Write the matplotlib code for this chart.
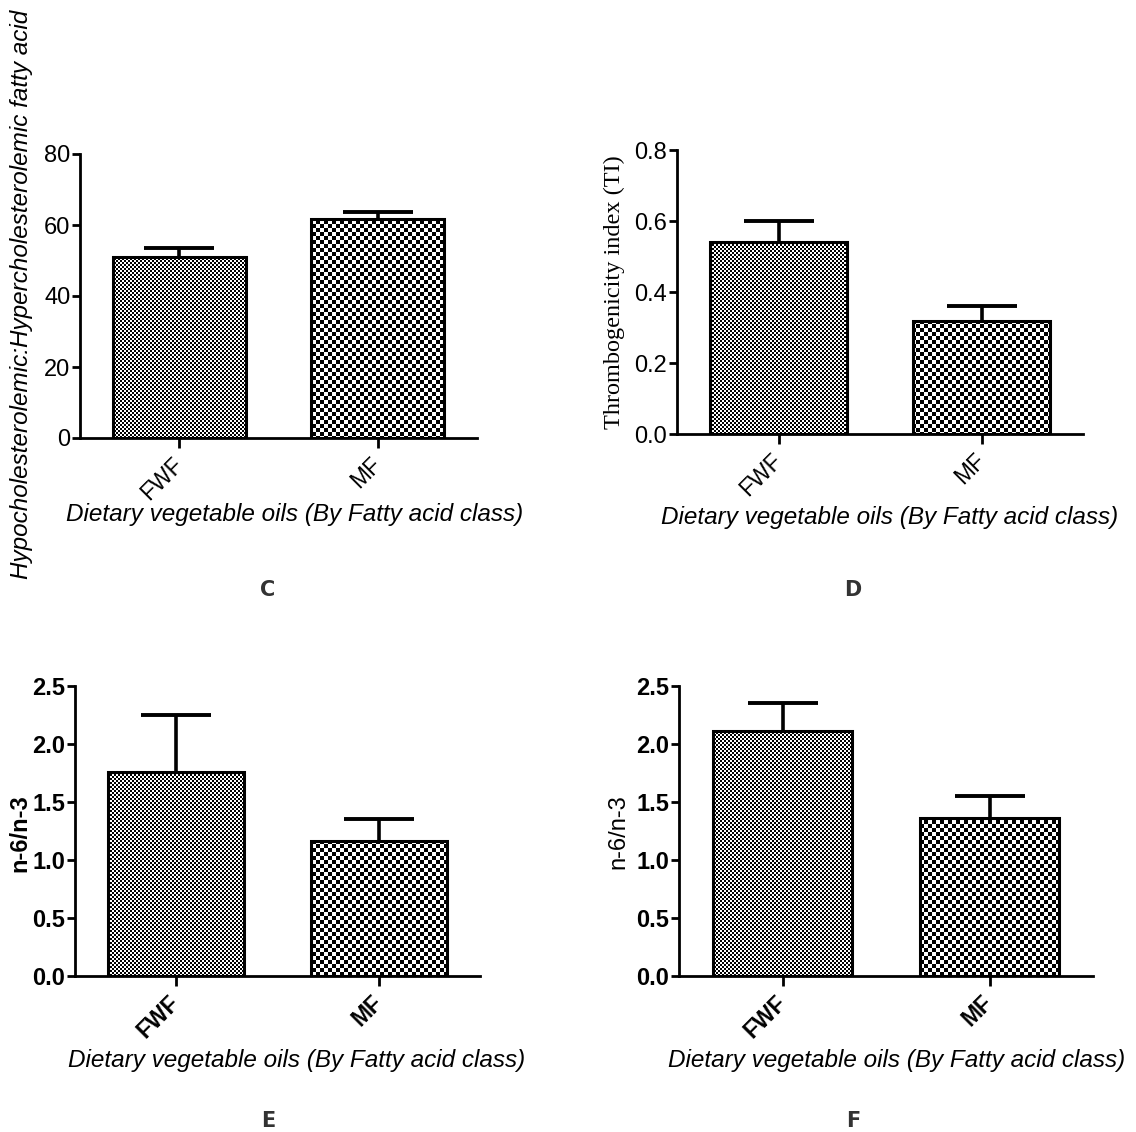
import numpy as np
import matplotlib
matplotlib.use('Agg')
import matplotlib.pyplot as plt

# data (mean, upper error bar end)
groups = ['FWF', 'MF']

hh_mean = [51.0, 61.7]
hh_top = [53.6, 63.8]

ti_mean = [0.542, 0.318]
ti_top = [0.599, 0.360]

e_mean = [1.76, 1.16]
e_top = [2.25, 1.35]

f_mean = [2.11, 1.365]
f_top = [2.355, 1.552]

xlab = 'Dietary vegetable oils (By Fatty acid class)'

W, H = 1136, 1132
fig = plt.figure(figsize=(W / 100, H / 100), dpi=100)

# checkerboard textures in screen pixels
yy, xx = np.mgrid[0:H, 0:W]
fine = ((xx // 2 + yy // 2) % 2).astype(float)
coarse = ((xx // 4 + yy // 4) % 2).astype(float)
textures = [fine, coarse]


def panel(box, mean, top, ymax, yticks, fmt, ylabel, ylab_font, ylab_px,
          xlab_px, bold, letter, letter_xy):
    l, t, r, b = box
    ax = fig.add_axes([l / W, 1 - b / H, (r - l) / W, (b - t) / H])
    ax.patch.set_visible(False)
    x = np.arange(len(groups))
    bars = ax.bar(x, mean, width=0.67, facecolor='none', edgecolor='k',
                  linewidth=2.2, zorder=2)
    for bar, tex in zip(bars, textures):
        im = fig.figimage(tex, cmap='gray', vmin=0, vmax=1, zorder=-1)
        im.set_clip_path(bar)
    err = np.array(top) - np.array(mean)
    _, caps, _ = ax.errorbar(x, mean, yerr=[np.zeros(len(x)), err], fmt='none',
                             ecolor='k', elinewidth=2.6, capsize=25,
                             capthick=2.8, zorder=1)
    caps[0].set_visible(False)
    ax.set_xlim(-0.5, 1.5)
    ax.set_ylim(0, ymax)
    ax.set_yticks(yticks)
    ax.set_yticklabels([fmt.format(v) for v in yticks])
    ax.set_xticks(x)
    weight = 'bold' if bold else 'normal'
    ax.set_xticklabels(groups, rotation=45, ha='right', va='center',
                       rotation_mode='anchor', fontsize=16.5, fontweight=weight,
                       family='Liberation Sans')
    for lab in ax.get_yticklabels():
        lab.set_fontsize(17)
        lab.set_fontweight(weight)
        lab.set_family('Liberation Sans')
    ax.tick_params(axis='y', length=6, width=2, pad=1)
    ax.tick_params(axis='x', length=7.5, width=2, pad=9)
    for s in ['top', 'right']:
        ax.spines[s].set_visible(False)
    for s in ['left', 'bottom']:
        ax.spines[s].set_linewidth(2)
    # label centres given in figure pixels
    ax.set_ylabel(ylabel, **ylab_font)
    ax.yaxis.set_label_coords((ylab_px[0] - l) / (r - l), (b - ylab_px[1]) / (b - t))
    ax.yaxis.label.set_va('center')
    ax.set_xlabel(xlab, fontsize=17.5, style='italic', family='Liberation Sans')
    ax.xaxis.set_label_coords((xlab_px[0] - l) / (r - l), (b - xlab_px[1]) / (b - t))
    ax.xaxis.label.set_va('center')
    fig.text(letter_xy[0] / W, 1 - letter_xy[1] / H, letter, ha='center',
             va='center', fontsize=15, fontweight='bold', color='#333333',
             family='DejaVu Sans')
    return ax


panel((80, 154, 477, 438), hh_mean, hh_top, 80, [0, 20, 40, 60, 80], '{:.0f}',
      'Hypocholesterolemic:Hypercholesterolemic fatty acid',
      dict(fontsize=17.5, style='italic', family='Liberation Sans'),
      (22, 294), (295, 515), False, 'C', (268, 590))

panel((677, 150, 1083, 434), ti_mean, ti_top, 0.8, [0, 0.2, 0.4, 0.6, 0.8],
      '{:.1f}', 'Thrombogenicity index (TI)',
      dict(fontsize=17.5, family='Liberation Serif'),
      (614, 292), (890, 517), False, 'D', (853, 590))

panel((75, 686, 480, 976), e_mean, e_top, 2.5, [0, 0.5, 1.0, 1.5, 2.0, 2.5],
      '{:.1f}', 'n-6/n-3',
      dict(fontsize=17, fontweight='bold', family='Liberation Sans'),
      (20, 833), (297, 1060), True, 'E', (268, 1121))

panel((679, 686, 1093, 976), f_mean, f_top, 2.5, [0, 0.5, 1.0, 1.5, 2.0, 2.5],
      '{:.1f}', 'n-6/n-3',
      dict(fontsize=17, family='Liberation Sans'),
      (618, 832), (897, 1060), True, 'F', (853, 1121))

fig.savefig('out.png', dpi=100)
